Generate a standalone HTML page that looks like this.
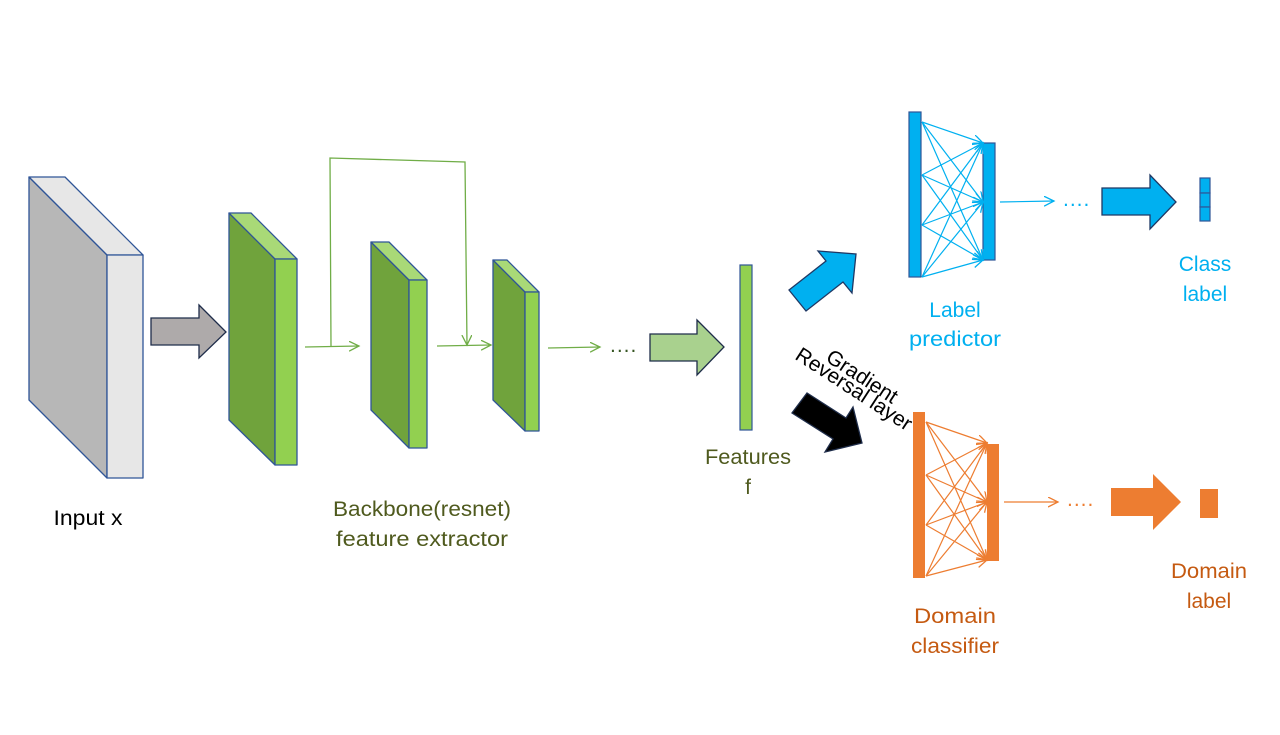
<!DOCTYPE html>
<html><head><meta charset="utf-8"><style>
html,body{margin:0;padding:0;background:#fff;}
svg{display:block;}
text{font-family:"Liberation Sans",sans-serif;font-size:21px;}
</style></head><body>
<svg width="1280" height="735" viewBox="0 0 1280 735" xmlns="http://www.w3.org/2000/svg">
<defs>
<marker id="mg" markerWidth="12" markerHeight="12" refX="10" refY="5" orient="auto" markerUnits="userSpaceOnUse"><path d="M0,0 L10,5 L0,10" fill="none" stroke="#70ad47" stroke-width="1.3"/></marker>
<marker id="mb" markerWidth="12" markerHeight="12" refX="10" refY="5" orient="auto" markerUnits="userSpaceOnUse"><path d="M0,0 L10,5 L0,10" fill="none" stroke="#00b0f0" stroke-width="1.3"/></marker>
<marker id="mo" markerWidth="12" markerHeight="12" refX="10" refY="5" orient="auto" markerUnits="userSpaceOnUse"><path d="M0,0 L10,5 L0,10" fill="none" stroke="#ed7d31" stroke-width="1.3"/></marker>
</defs>

<g stroke="#2f5597" stroke-width="1.3" stroke-linejoin="round">
<polygon points="29,177 107,255 107,478 29,400" fill="#b7b7b7"/>
<polygon points="29,177 65,177 143,255 107,255" fill="#e7e7e7"/>
<rect x="107" y="255" width="36" height="223" fill="#e7e7e7"/>
</g>
<polygon points="151,318 199,318 199,305 226,332 199,358 199,345 151,345" fill="#aeaaaa" stroke="#1f2d4a" stroke-width="1.3"/>

<g stroke="#2f5597" stroke-width="1.3" stroke-linejoin="round">
<polygon points="229,213 275,259 275,465 229,420" fill="#70a33c"/>
<polygon points="229,213 251,213 297,259 275,259" fill="#a9d977"/>
<rect x="275" y="259" width="22" height="206" fill="#92d050"/>
<polygon points="371,242 409,280 409,448 371,410" fill="#70a33c"/>
<polygon points="371,242 389,242 427,280 409,280" fill="#a9d977"/>
<rect x="409" y="280" width="18" height="168" fill="#92d050"/>
<polygon points="493,260 525,292 525,431 493,400" fill="#70a33c"/>
<polygon points="493,260 507,260 539,292 525,292" fill="#a9d977"/>
<rect x="525" y="292" width="14" height="139" fill="#92d050"/>
</g>
<g stroke="#70ad47" stroke-width="1.3" fill="none">
<line x1="305" y1="347" x2="359" y2="346" marker-end="url(#mg)"/>
<polyline points="331,347 330,158 465,162 467,345" marker-end="url(#mg)"/>
<line x1="437" y1="346" x2="491" y2="345" marker-end="url(#mg)"/>
<line x1="548" y1="348" x2="600" y2="347" marker-end="url(#mg)"/>
</g>
<text x="610" y="352" fill="#375623" font-size="20" letter-spacing="1">....</text>
<polygon points="650,334 697,334 697,320 724,347 697,375 697,361 650,361" fill="#a9d18e" stroke="#1f2d4a" stroke-width="1.3"/>
<rect x="740" y="265" width="12" height="165" fill="#92d050" stroke="#2f5597" stroke-width="1.2"/>
<text x="748" y="464" text-anchor="middle" fill="#4f5a1e" textLength="86" lengthAdjust="spacingAndGlyphs">Features</text>
<text x="748" y="494" text-anchor="middle" fill="#4f5a1e">f</text>

<polygon points="789,290 826,261 818,251 856,254 852,293 843,282 806,311" fill="#00b0f0" stroke="#1f3864" stroke-width="1.3"/>
<polygon points="792,413 833,439 825,452 862,443 853,407 846,418 807,393" fill="#000" stroke="#1f2d4a" stroke-width="1.3"/>
<g transform="translate(854,389) rotate(33)">
<text x="0" y="-8" text-anchor="middle" font-size="12.5" fill="#000">Gradient</text>
<text x="0" y="7" text-anchor="middle" font-size="12.5" fill="#000">Reversal layer</text>
</g>

<rect x="909" y="112" width="12" height="165" fill="#00b0f0" stroke="#2f5597" stroke-width="1.2"/>
<rect x="983" y="143" width="12" height="117" fill="#00b0f0" stroke="#2f5597" stroke-width="1.2"/>
<g stroke="#00b0f0" stroke-width="1.2" fill="none">
<line x1="922" y1="122" x2="983" y2="143" marker-end="url(#mb)"/>
<line x1="922" y1="122" x2="983" y2="202" marker-end="url(#mb)"/>
<line x1="922" y1="122" x2="983" y2="260" marker-end="url(#mb)"/>
<line x1="922" y1="175" x2="983" y2="143" marker-end="url(#mb)"/>
<line x1="922" y1="175" x2="983" y2="202" marker-end="url(#mb)"/>
<line x1="922" y1="175" x2="983" y2="260" marker-end="url(#mb)"/>
<line x1="922" y1="225" x2="983" y2="143" marker-end="url(#mb)"/>
<line x1="922" y1="225" x2="983" y2="202" marker-end="url(#mb)"/>
<line x1="922" y1="225" x2="983" y2="260" marker-end="url(#mb)"/>
<line x1="922" y1="277" x2="983" y2="143" marker-end="url(#mb)"/>
<line x1="922" y1="277" x2="983" y2="202" marker-end="url(#mb)"/>
<line x1="922" y1="277" x2="983" y2="260" marker-end="url(#mb)"/>
<line x1="1000" y1="202" x2="1054" y2="201" marker-end="url(#mb)"/>
</g>
<text x="1063" y="206" fill="#00b0f0" font-size="20" letter-spacing="1">....</text>
<polygon points="1102,188 1150,188 1150,175 1176,202 1150,229 1150,215 1102,215" fill="#00b0f0" stroke="#1f3864" stroke-width="1.3"/>
<g fill="#00b0f0" stroke="#2f5597" stroke-width="1.2">
<rect x="1200" y="178" width="10" height="15"/>
<rect x="1200" y="193" width="10" height="14"/>
<rect x="1200" y="207" width="10" height="14"/>
</g>
<text x="955" y="317" text-anchor="middle" fill="#00b0f0">Label</text>
<text x="955" y="346" text-anchor="middle" fill="#00b0f0" textLength="92" lengthAdjust="spacingAndGlyphs">predictor</text>
<text x="1205" y="271" text-anchor="middle" fill="#00b0f0">Class</text>
<text x="1205" y="301" text-anchor="middle" fill="#00b0f0">label</text>

<rect x="913" y="412" width="12" height="166" fill="#ed7d31"/>
<rect x="987" y="444" width="12" height="117" fill="#ed7d31"/>
<g stroke="#ed7d31" stroke-width="1.2" fill="none">
<line x1="926" y1="422" x2="987" y2="443" marker-end="url(#mo)"/>
<line x1="926" y1="422" x2="987" y2="502" marker-end="url(#mo)"/>
<line x1="926" y1="422" x2="987" y2="560" marker-end="url(#mo)"/>
<line x1="926" y1="475" x2="987" y2="443" marker-end="url(#mo)"/>
<line x1="926" y1="475" x2="987" y2="502" marker-end="url(#mo)"/>
<line x1="926" y1="475" x2="987" y2="560" marker-end="url(#mo)"/>
<line x1="926" y1="525" x2="987" y2="443" marker-end="url(#mo)"/>
<line x1="926" y1="525" x2="987" y2="502" marker-end="url(#mo)"/>
<line x1="926" y1="525" x2="987" y2="560" marker-end="url(#mo)"/>
<line x1="926" y1="576" x2="987" y2="443" marker-end="url(#mo)"/>
<line x1="926" y1="576" x2="987" y2="502" marker-end="url(#mo)"/>
<line x1="926" y1="576" x2="987" y2="560" marker-end="url(#mo)"/>
<line x1="1004" y1="502" x2="1058" y2="502" marker-end="url(#mo)"/>
</g>
<text x="1067" y="506" fill="#ed7d31" font-size="20" letter-spacing="1">....</text>
<polygon points="1111,488 1153,488 1153,474 1181,502 1153,530 1153,516 1111,516" fill="#ed7d31"/>
<rect x="1200" y="489" width="18" height="29" fill="#ed7d31"/>
<text x="955" y="623" text-anchor="middle" fill="#c55a11" textLength="82" lengthAdjust="spacingAndGlyphs">Domain</text>
<text x="955" y="653" text-anchor="middle" fill="#c55a11" textLength="88" lengthAdjust="spacingAndGlyphs">classifier</text>
<text x="1209" y="578" text-anchor="middle" fill="#c55a11" textLength="76" lengthAdjust="spacingAndGlyphs">Domain</text>
<text x="1209" y="608" text-anchor="middle" fill="#c55a11">label</text>

<text x="88" y="525" text-anchor="middle" fill="#000" textLength="69" lengthAdjust="spacingAndGlyphs">Input x</text>
<text x="422" y="516" text-anchor="middle" fill="#4f5a1e" textLength="178" lengthAdjust="spacingAndGlyphs">Backbone(resnet)</text>
<text x="422" y="546" text-anchor="middle" fill="#4f5a1e" textLength="172" lengthAdjust="spacingAndGlyphs">feature extractor</text>
</svg>
</body></html>
